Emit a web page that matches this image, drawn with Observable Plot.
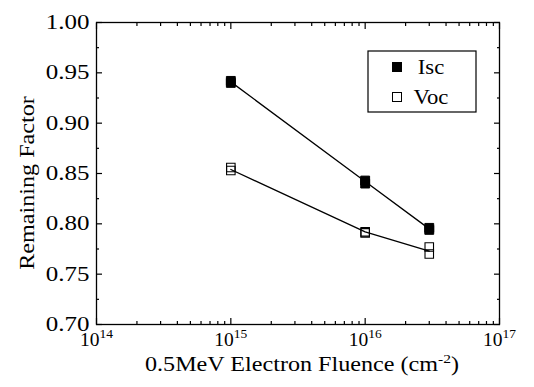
<!DOCTYPE html>
<html><head><meta charset="utf-8">
<script src="https://cdn.jsdelivr.net/npm/d3@7"></script>
<script src="https://cdn.jsdelivr.net/npm/@observablehq/plot@0.6"></script>
<style>
body{margin:0;background:#fff}
#chart svg, #chart svg text{font-family:"Liberation Serif","Times New Roman",Times,serif !important}
#chart svg text.big{font-size:21px}
#chart svg text.ytk{font-size:20px}
#chart svg text.xtk{font-size:19.5px}
</style>
</head><body><div id="chart"></div>
<script>
// ---- data ----
const fluence = [1e15, 1e16, 3e16];
const iscA = [0.942, 0.843, 0.796];
const iscB = [0.940, 0.840, 0.794];
const vocA = [0.856, 0.792, 0.777];
const vocB = [0.853, 0.791, 0.770];
const iscLine = [0.941, 0.842, 0.795];
const vocLine = [0.854, 0.792, 0.773];
const seriesNames = ["Isc", "Voc"];
const xMajor = [1e14, 1e15, 1e16, 1e17];
const xMinorMult = [2, 3, 4, 5, 6, 7, 8, 9];
const yMajor = [0.70, 0.75, 0.80, 0.85, 0.90, 0.95, 1.00];
const yMinor = [0.725, 0.775, 0.825, 0.875, 0.925, 0.975];
const xTitle = "0.5MeV Electron Fluence (cm";
const xTitleSup = "-2";
const yTitle = "Remaining Factor";

const xMinor = [];
xMajor.slice(0, -1).forEach(d => xMinorMult.forEach(m => xMinor.push(d * m)));

const pts = [];
fluence.forEach((f, i) => {
  pts.push({f, v: iscA[i], s: "Isc"}, {f, v: iscB[i], s: "Isc"});
  pts.push({f, v: vocA[i], s: "Voc"}, {f, v: vocB[i], s: "Voc"});
});
const lines = [];
fluence.forEach((f, i) => {
  lines.push({f, v: iscLine[i], s: "Isc"});
  lines.push({f, v: vocLine[i], s: "Voc"});
});

const W = 534, H = 387, mL = 96, mR = 35, mT = 22, mB = 63;

const tickAx = (anchor, data, size, isX) => (isX ? Plot.axisX : Plot.axisY)(data, {
  anchor, tickSize: -size, fill: "none", label: null, stroke: "black", strokeWidth: 1.2
});

const svg = Plot.plot({
  width: W, height: H,
  marginLeft: mL, marginRight: mR, marginTop: mT, marginBottom: mB,
  x: {type: "log", domain: [1e14, 1e17]},
  y: {domain: [0.70, 1.00]},
  style: {fontSize: "20px", color: "black", background: "white", overflow: "visible"},
  marks: [
    tickAx("bottom", xMajor, 6, true),
    tickAx("bottom", xMinor, 3, true),
    tickAx("top", xMajor, 6, true),
    tickAx("top", xMinor, 3, true),
    tickAx("left", yMajor, 6, false),
    tickAx("left", yMinor, 3, false),
    tickAx("right", yMajor, 6, false),
    tickAx("right", yMinor, 3, false),
    Plot.axisY(yMajor, {anchor: "left", tickSize: 0, tickPadding: 7, tickFormat: d3.format(".2f"), label: null}),
    Plot.axisX(xMajor, {anchor: "bottom", tickSize: 0, tickPadding: 8, tickFormat: d => "10^" + Math.round(Math.log10(d)), label: null}),
    Plot.line(lines, {x: "f", y: "v", z: "s", stroke: "black", strokeWidth: 1.3}),
    Plot.dot(pts.filter(d => d.s === seriesNames[0]), {x: "f", y: "v", symbol: "square", r: 5, fill: "black", stroke: "black", strokeWidth: 1}),
    Plot.dot(pts.filter(d => d.s === seriesNames[1]), {x: "f", y: "v", symbol: "square", r: 4.8, fill: "none", stroke: "black", strokeWidth: 1.1}),
    Plot.frame({stroke: "black", strokeWidth: 1.3})
  ]
});
document.getElementById("chart").appendChild(svg);

const s = d3.select(svg);

// horizontal stretch of a text about its anchor (the reference's type is wide)
function stretch(el, k) {
  const x = +el.getAttribute("x") || 0;
  const tr = el.getAttribute("transform") || "";
  el.setAttribute("transform", `${tr} translate(${x},0) scale(${k},1) translate(${-x},0)`);
}

s.selectAll("text").each(function () {
  const txt = this.textContent;
  const m = txt.match(/^10\^(\d+)$/);
  if (m) {
    const t = d3.select(this).classed("xtk", true);
    t.text(null);
    t.append("tspan").text("10");
    t.append("tspan").attr("dy", -8).style("font-size", "13.5px").text(m[1]);
  } else if (/^\d\.\d\d$/.test(txt)) {
    d3.select(this).classed("ytk", true);
    stretch(this, 1.25);
  }
});

// axis titles
const yt = s.append("text").classed("big", true)
  .attr("transform", "translate(27,183) rotate(-90)")
  .attr("text-anchor", "middle").attr("dominant-baseline", "central")
  .attr("fill", "black").text(yTitle);
stretch(yt.node(), 1.15);
const xt = s.append("text").classed("big", true).attr("x", 302).attr("y", 371)
  .attr("text-anchor", "middle").attr("fill", "black");
xt.append("tspan").text(xTitle);
xt.append("tspan").attr("dy", -8).style("font-size", "13.5px").text(xTitleSup);
xt.append("tspan").attr("dy", 8).text(")");
stretch(xt.node(), 1.15);

// legend
const lg = s.append("g");
lg.append("rect").attr("x", 368).attr("y", 51).attr("width", 108).attr("height", 61)
  .attr("fill", "white").attr("stroke", "black").attr("stroke-width", 1.2);
seriesNames.forEach((n, i) => {
  const cy = 67 + i * 30;
  lg.append("rect").attr("x", 392.5).attr("y", cy - 4.5).attr("width", 9).attr("height", 9)
    .attr("fill", i === 0 ? "black" : "white").attr("stroke", "black").attr("stroke-width", 1);
  const t = lg.append("text").classed("big", true).attr("x", 431).attr("y", cy + 7).attr("fill", "black").text(n);
  stretch(t.node(), 1.08);
});
</script>
</body></html>
